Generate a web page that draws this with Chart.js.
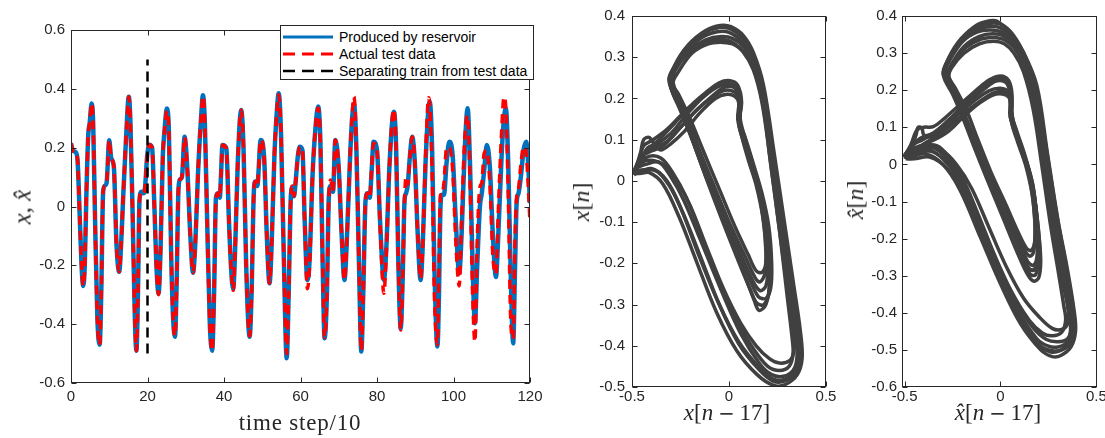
<!DOCTYPE html>
<html>
<head>
<meta charset="utf-8">
<script src="https://cdn.jsdelivr.net/npm/chart.js@4/dist/chart.umd.min.js"></script>
<style>
  body { margin: 0; background: #fff; }
  #page { position: relative; width: 1105px; height: 438px; overflow: hidden; background: #fff; }
  canvas { position: absolute; top: 0; }
  .lbl { position: absolute; font-family: "Liberation Serif", "Times New Roman", serif; color: #262626;
         white-space: nowrap; line-height: 1; transform: translate(-50%, -50%); }
  .rot { transform: translate(-50%, -50%) rotate(-90deg); }
  .mi { font-family: "DejaVu Sans", sans-serif; font-size: 0.85em; padding: 0 5px; }
  #legend { position: absolute; left: 280px; top: 25px; width: 254px; height: 55px; box-sizing: border-box;
            border: 1px solid #262626; background: #fff; font: 14px "Liberation Sans", Arial, sans-serif; color: #000; }
  #legend .row { position: absolute; left: 2px; height: 16px; line-height: 16px; white-space: nowrap; }
  #legend svg { position: absolute; left: 0; top: 5px; }
  #legend span { position: absolute; left: 56px; top: 0; }
</style>
</head>
<body>
<div id="page">
  <canvas id="tsChart" width="545" height="438" style="left:0"></canvas>
  <canvas id="midChart" width="290" height="438" style="left:550px"></canvas>
  <canvas id="hatChart" width="265" height="438" style="left:840px"></canvas>

  <div id="legend">
    <div class="row" style="top:3px">
      <svg width="52" height="6"><line x1="0" y1="3" x2="50" y2="3" stroke="#0072bd" stroke-width="3"/></svg>
      <span>Produced by reservoir</span>
    </div>
    <div class="row" style="top:20px">
      <svg width="52" height="6"><line x1="0" y1="3" x2="50" y2="3" stroke="#ff0000" stroke-width="3" stroke-dasharray="12 7"/></svg>
      <span>Actual test data</span>
    </div>
    <div class="row" style="top:37px">
      <svg width="52" height="6"><line x1="0" y1="3" x2="50" y2="3" stroke="#000" stroke-width="2.5" stroke-dasharray="12 7"/></svg>
      <span>Separating train from test data</span>
    </div>
  </div>

  <div class="lbl rot" style="left:22px;top:207px;font-size:25px"><i>x</i>, <i>x&#770;</i></div>
  <div class="lbl" style="left:300px;top:422px;font-size:23px;letter-spacing:0.8px">time step/10</div>
  <div class="lbl rot" style="left:581px;top:202px;font-size:24px"><i>x</i>[<i>n</i>]</div>
  <div class="lbl" style="left:727px;top:412px;font-size:23px"><i>x</i>[<i>n</i><span class="mi">&minus;</span>17]</div>
  <div class="lbl rot" style="left:855px;top:200px;font-size:24px"><i>x&#770;</i>[<i>n</i>]</div>
  <div class="lbl" style="left:998px;top:412px;font-size:23px"><i>x&#770;</i>[<i>n</i><span class="mi">&minus;</span>17]</div>
</div>

<script>
// time axis (time step / 10) shared by both series
const timeSteps = [
    0.0, 0.5, 1.2, 1.7, 2.3, 2.8, 3.2, 3.6, 4.0, 4.5, 4.9, 5.4, 5.8, 6.3, 6.9, 7.5, 7.9, 8.4, 8.8, 9.3,
    10.0, 10.5, 11.2, 11.9, 12.6, 13.1, 13.7, 14.5, 15.1, 15.5, 16.1, 16.7, 17.1, 17.5, 17.9, 18.4, 19.0, 19.4, 19.9,
    20.5, 21.2, 21.8, 22.4, 22.9, 23.4, 24.0, 24.4, 25.1, 25.6, 26.2, 26.7, 27.2, 27.6, 28.1, 28.5, 29.0, 29.7,
    30.4, 31.2, 31.9, 32.4, 33.3, 34.0, 34.5, 35.0, 35.6, 36.3, 36.9, 37.4, 37.9, 38.4, 38.9, 39.2, 39.6,
    40.6, 41.3, 41.9, 42.4, 42.9, 43.6, 44.5, 45.1, 45.8, 46.7, 47.2, 47.8, 48.2, 48.7, 49.6,
    50.5, 51.2, 51.9, 52.4, 53.2, 53.7, 54.3, 54.9, 55.6, 56.4, 56.9, 57.5, 57.9, 58.3, 58.7, 59.3, 59.8,
    60.5, 61.1, 61.8, 62.3, 63.2, 64.0, 64.6, 65.2, 65.8, 66.3, 66.9, 67.4, 67.9, 68.5, 69.1,
    70.0, 70.7, 71.5, 72.0, 73.0, 73.5, 74.0, 74.6, 75.3, 75.9, 76.4, 77.0, 77.5, 78.1, 78.6, 79.1,
    80.0, 80.8, 81.8, 82.4, 83.3, 84.4, 85.0, 85.6, 86.2, 86.7, 87.2, 87.6, 88.0, 88.6, 89.2, 89.9,
    90.6, 91.4, 91.9, 92.7, 93.5, 93.8, 94.4, 95.0, 95.8, 96.2, 96.6, 97.0, 97.5, 98.2, 98.9, 99.8,
    100.6, 101.5, 102.1, 102.9, 103.7, 104.3, 105.0, 105.6, 106.2, 106.9, 107.4, 108.0, 108.7, 109.5,
    110.3, 111.1, 111.7, 112.6, 113.2, 113.7, 114.3, 115.0, 115.6, 116.1, 116.5, 117.0, 117.6, 118.3, 119.0, 119.5, 120.0
];

// blue: produced by reservoir
const reservoirOut = [
    0.215, 0.19, 0.185, 0.16, -0.04, -0.21, -0.27, -0.2, 0.03, 0.24, 0.285, 0.35, 0.28, -0.05, -0.38, -0.47, -0.3, 0.05, 0.07, 0.08,
    0.225, 0.165, 0.135, -0.13, -0.222, -0.13, 0.05, 0.26, 0.373, 0.3, -0.02, -0.38, -0.49, -0.3, 0.02, 0.05, 0.045, 0.07, 0.17,
    0.21, 0.2, 0.0, -0.22, -0.296, -0.15, 0.17, 0.25, 0.333, 0.25, -0.17, -0.38, -0.443, -0.27, 0.06, 0.092, 0.1, 0.237,
    0.13, -0.1, -0.225, -0.15, 0.14, 0.3, 0.378, 0.28, -0.05, -0.4, -0.49, -0.3, 0.03, 0.045, 0.03, 0.1, 0.209,
    0.198, -0.05, -0.22, -0.28, -0.15, 0.15, 0.328, 0.2, -0.2, -0.443, -0.3, 0.05, 0.085, 0.07, 0.226,
    0.164, -0.1, -0.261, -0.15, 0.18, 0.3, 0.385, 0.25, -0.15, -0.516, -0.3, 0.04, 0.065, 0.035, 0.08, 0.17, 0.203,
    0.192, -0.05, -0.25, -0.2, 0.12, 0.28, 0.34, 0.22, -0.2, -0.448, -0.3, 0.03, 0.07, 0.05, 0.226,
    0.13, -0.08, -0.25, -0.15, 0.18, 0.3, 0.35, 0.2, -0.2, -0.493, -0.3, 0.02, 0.045, 0.03, 0.12, 0.22,
    0.192, -0.05, -0.25, -0.15, 0.15, 0.322, 0.2, -0.2, -0.414, -0.25, 0.02, 0.045, 0.07, 0.17, 0.237, 0.147,
    -0.08, -0.25, -0.15, 0.15, 0.34, 0.356, 0.2, -0.2, -0.476, -0.3, 0.0, 0.04, 0.04, 0.15, 0.22, 0.17,
    -0.05, -0.227, -0.1, 0.18, 0.334, 0.15, -0.2, -0.397, -0.2, 0.0, 0.045, 0.12, 0.209, 0.135,
    -0.1, -0.24, -0.1, 0.18, 0.3, 0.334, 0.15, -0.25, -0.465, -0.2, 0.011, 0.045, 0.1, 0.19, 0.22, 0.15, 0.011
];

// red: actual test data
const actualData = [
    0.215, 0.19, 0.185, 0.16, -0.04, -0.21, -0.27, -0.2, 0.03, 0.24, 0.285, 0.35, 0.28, -0.05, -0.38, -0.47, -0.3, 0.05, 0.07, 0.08,
    0.225, 0.165, 0.135, -0.13, -0.222, -0.13, 0.05, 0.26, 0.373, 0.3, -0.02, -0.38, -0.49, -0.3, 0.02, 0.05, 0.045, 0.07, 0.17,
    0.21, 0.2, 0.0, -0.22, -0.3, -0.15, 0.17, 0.25, 0.325, 0.25, -0.17, -0.38, -0.44, -0.27, 0.06, 0.092, 0.1, 0.235,
    0.13, -0.1, -0.225, -0.15, 0.14, 0.3, 0.375, 0.28, -0.05, -0.4, -0.49, -0.3, 0.03, 0.045, 0.03, 0.1, 0.209,
    0.198, -0.05, -0.22, -0.285, -0.15, 0.15, 0.328, 0.2, -0.2, -0.44, -0.3, 0.05, 0.085, 0.07, 0.226,
    0.164, -0.1, -0.261, -0.15, 0.18, 0.3, 0.38, 0.25, -0.15, -0.5, -0.3, 0.04, 0.07, 0.035, 0.08, 0.17, 0.203,
    0.192, -0.05, -0.28, -0.22, 0.12, 0.28, 0.335, 0.22, -0.2, -0.445, -0.3, 0.03, 0.09, 0.05, 0.226,
    0.13, -0.08, -0.25, -0.15, 0.18, 0.31, 0.373, 0.2, -0.2, -0.49, -0.3, 0.02, 0.045, 0.03, 0.13, 0.215,
    0.19, -0.06, -0.295, -0.17, 0.15, 0.33, 0.2, -0.2, -0.42, -0.25, 0.02, 0.1, 0.075, 0.17, 0.237, 0.147,
    -0.08, -0.245, -0.15, 0.17, 0.37, 0.34, 0.12, -0.3, -0.47, -0.2, 0.04, 0.04, 0.08, 0.2, 0.2, 0.12,
    -0.12, -0.27, -0.05, 0.22, 0.31, 0.1, -0.3, -0.46, -0.12, 0.065, 0.08, 0.18, 0.19, 0.08,
    -0.17, -0.23, -0.02, 0.26, 0.373, 0.33, 0.05, -0.4, -0.45, -0.1, 0.03, 0.06, 0.14, 0.203, 0.18, 0.08, -0.057
];

// black dashed: train / test split
const separatorT = [20, 20];
const separatorX = [-0.5, 0.5];

const tsXTicks = [0, 20, 40, 60, 80, 100, 120];
const tsXLabels = ['0', '20', '40', '60', '80', '100', '120'];
const tsYTicks = [-0.6, -0.4, -0.2, 0, 0.2, 0.4, 0.6];
const tsYLabels = ['-0.6', '-0.4', '-0.2', '0', '0.2', '0.4', '0.6'];

const phaseXTicks = [-0.5, 0, 0.5];
const phaseXLabels = ['-0.5', '0', '0.5'];
const midYTicks = [-0.5, -0.4, -0.3, -0.2, -0.1, 0, 0.1, 0.2, 0.3, 0.4];
const midYLabels = ['-0.5', '-0.4', '-0.3', '-0.2', '-0.1', '0', '0.1', '0.2', '0.3', '0.4'];
const hatYTicks = [-0.6, -0.5, -0.4, -0.3, -0.2, -0.1, 0, 0.1, 0.2, 0.3, 0.4];
const hatYLabels = ['-0.6', '-0.5', '-0.4', '-0.3', '-0.2', '-0.1', '0', '0.1', '0.2', '0.3', '0.4'];

// x[n] against x[n-17], traced loops [x[n-17], x[n]]
const midLoop1 = [[-0.495,0.02],[-0.47,0.04],[-0.44,0.085],[-0.39,0.1],[-0.32,0.125],[-0.25,0.158],[-0.18,0.19],[-0.12,0.214],
    [-0.05,0.238],[0.005,0.243],[0.045,0.232],[0.065,0.19],[0.05,0.14],[0.075,0.1],[0.11,0.04],[0.165,-0.04],[0.196,-0.1],
    [0.207,-0.18],[0.212,-0.245],[0.19,-0.3],[0.155,-0.314],[0.13,-0.29],[0.06,-0.2],[-0.03,-0.09],[-0.11,0.0],[-0.18,0.09],
    [-0.25,0.175],[-0.305,0.236],[-0.28,0.28],[-0.21,0.33],[-0.12,0.365],[-0.045,0.377],[0.01,0.374],[0.075,0.352],[0.125,0.312],
    [0.178,0.232],[0.232,0.07],[0.284,-0.095],[0.336,-0.26],[0.368,-0.365],[0.377,-0.43],[0.352,-0.47],[0.29,-0.494],[0.23,-0.496],
    [0.145,-0.47],[0.04,-0.412],[-0.065,-0.318],[-0.168,-0.195],[-0.255,-0.09],[-0.34,-0.008],[-0.41,0.02],[-0.46,0.018],[-0.495,0.02]];
const midLoop2 = [[-0.485,0.03],[-0.45,0.06],[-0.41,0.07],[-0.34,0.085],[-0.25,0.13],[-0.17,0.17],[-0.1,0.2],[-0.03,0.226],
    [0.02,0.228],[0.05,0.21],[0.06,0.18],[0.055,0.13],[0.085,0.09],[0.125,0.03],[0.165,-0.05],[0.19,-0.13],[0.2,-0.21],
    [0.19,-0.255],[0.16,-0.266],[0.12,-0.24],[0.05,-0.165],[-0.03,-0.07],[-0.12,0.03],[-0.19,0.115],[-0.25,0.185],[-0.29,0.245],
    [-0.27,0.28],[-0.2,0.318],[-0.12,0.342],[-0.04,0.35],[0.02,0.345],[0.08,0.323],[0.13,0.28],[0.175,0.2],[0.22,0.06],
    [0.27,-0.1],[0.315,-0.27],[0.345,-0.38],[0.35,-0.43],[0.33,-0.46],[0.28,-0.474],[0.22,-0.47],[0.16,-0.445],[0.06,-0.37],
    [-0.045,-0.26],[-0.15,-0.14],[-0.235,-0.045],[-0.3,0.01],[-0.36,0.045],[-0.43,0.04],[-0.485,0.03]];
const midLoop3 = [[-0.475,0.04],[-0.455,0.07],[-0.44,0.1],[-0.41,0.105],[-0.38,0.085],[-0.35,0.075],[-0.3,0.09],[-0.23,0.12],
    [-0.15,0.165],[-0.07,0.2],[-0.01,0.21],[0.03,0.205],[0.05,0.19],[0.045,0.15],[0.07,0.1],[0.1,0.05],[0.14,-0.01],
    [0.175,-0.09],[0.19,-0.17],[0.185,-0.225],[0.16,-0.245],[0.135,-0.235],[0.08,-0.18],[0.01,-0.11],[-0.07,-0.02],[-0.14,0.06],
    [-0.2,0.135],[-0.255,0.2],[-0.29,0.235],[-0.26,0.265],[-0.19,0.31],[-0.11,0.332],[-0.03,0.336],[0.03,0.33],[0.09,0.305],
    [0.14,0.255],[0.18,0.17],[0.215,0.04],[0.26,-0.12],[0.3,-0.28],[0.325,-0.38],[0.33,-0.42],[0.31,-0.45],[0.26,-0.46],
    [0.2,-0.45],[0.13,-0.41],[0.04,-0.34],[-0.05,-0.245],[-0.14,-0.135],[-0.22,-0.04],[-0.29,0.02],[-0.35,0.055],[-0.41,0.06],[-0.475,0.04]];
const midLoop4 = [[-0.49,0.015],[-0.46,0.045],[-0.42,0.075],[-0.36,0.1],[-0.28,0.14],[-0.2,0.18],[-0.12,0.21],[-0.05,0.232],
    [0.0,0.236],[0.04,0.225],[0.058,0.195],[0.05,0.145],[0.08,0.11],[0.12,0.05],[0.17,-0.03],[0.205,-0.11],[0.22,-0.2],
    [0.215,-0.26],[0.19,-0.285],[0.15,-0.28],[0.1,-0.23],[0.02,-0.14],[-0.07,-0.04],[-0.15,0.05],[-0.22,0.14],[-0.275,0.2],
    [-0.31,0.245],[-0.285,0.275],[-0.22,0.322],[-0.13,0.358],[-0.05,0.372],[0.01,0.368],[0.07,0.346],[0.12,0.305],[0.17,0.225],
    [0.225,0.07],[0.275,-0.1],[0.325,-0.26],[0.36,-0.37],[0.365,-0.43],[0.34,-0.465],[0.28,-0.482],[0.225,-0.48],[0.16,-0.455],
    [0.05,-0.39],[-0.055,-0.295],[-0.16,-0.175],[-0.245,-0.07],[-0.32,0.0],[-0.4,0.03],[-0.49,0.015]];
const midLoop5 = [[-0.49,0.025],[-0.455,0.05],[-0.42,0.08],[-0.37,0.09],[-0.3,0.115],[-0.22,0.16],[-0.14,0.2],[-0.06,0.228],
    [0.0,0.235],[0.04,0.222],[0.06,0.19],[0.058,0.15],[0.082,0.105],[0.12,0.045],[0.16,-0.035],[0.19,-0.12],[0.205,-0.2],
    [0.205,-0.27],[0.18,-0.3],[0.145,-0.297],[0.115,-0.27],[0.04,-0.185],[-0.04,-0.09],[-0.12,0.01],[-0.19,0.1],[-0.25,0.17],
    [-0.3,0.228],[-0.29,0.26],[-0.23,0.31],[-0.14,0.348],[-0.06,0.362],[0.0,0.36],[0.065,0.338],[0.115,0.3],[0.165,0.22],
    [0.22,0.07],[0.27,-0.09],[0.32,-0.25],[0.352,-0.36],[0.36,-0.425],[0.34,-0.465],[0.285,-0.486],[0.225,-0.485],[0.155,-0.458],
    [0.05,-0.395],[-0.05,-0.3],[-0.15,-0.18],[-0.24,-0.075],[-0.31,-0.01],[-0.38,0.025],[-0.49,0.025]];
const midLoop6 = [[-0.48,0.035],[-0.44,0.065],[-0.39,0.08],[-0.32,0.095],[-0.24,0.135],[-0.16,0.175],[-0.08,0.205],[-0.02,0.22],
    [0.03,0.215],[0.052,0.195],[0.055,0.155],[0.06,0.12],[0.09,0.075],[0.135,0.01],[0.17,-0.07],[0.19,-0.15],[0.19,-0.2],
    [0.17,-0.222],[0.14,-0.218],[0.1,-0.18],[0.03,-0.11],[-0.05,-0.02],[-0.13,0.07],[-0.2,0.15],[-0.26,0.21],[-0.295,0.24],
    [-0.275,0.27],[-0.21,0.31],[-0.13,0.336],[-0.05,0.343],[0.01,0.338],[0.07,0.315],[0.125,0.27],[0.17,0.19],[0.21,0.06],
    [0.255,-0.1],[0.3,-0.26],[0.33,-0.36],[0.335,-0.41],[0.315,-0.435],[0.26,-0.442],[0.21,-0.432],[0.14,-0.4],[0.06,-0.345],
    [-0.03,-0.26],[-0.12,-0.155],[-0.2,-0.06],[-0.27,0.0],[-0.34,0.04],[-0.42,0.05],[-0.48,0.035]];

// x^[n] against x^[n-17]
const hatLoop1 = [[-0.505,0.02],[-0.47,0.05],[-0.435,0.093],[-0.4,0.1],[-0.35,0.102],[-0.29,0.125],[-0.24,0.148],[-0.17,0.18],
    [-0.1,0.212],[-0.05,0.23],[0.0,0.238],[0.04,0.228],[0.058,0.2],[0.06,0.155],[0.052,0.128],[0.08,0.08],[0.12,0.03],
    [0.165,-0.045],[0.185,-0.12],[0.195,-0.2],[0.2,-0.26],[0.182,-0.298],[0.155,-0.296],[0.13,-0.27],[0.06,-0.18],[-0.02,-0.08],
    [-0.1,0.02],[-0.17,0.11],[-0.23,0.19],[-0.29,0.24],[-0.27,0.285],[-0.2,0.34],[-0.125,0.375],[-0.055,0.387],[-0.015,0.385],
    [0.05,0.356],[0.12,0.302],[0.19,0.212],[0.245,0.03],[0.3,-0.15],[0.35,-0.285],[0.383,-0.39],[0.392,-0.448],[0.368,-0.492],
    [0.315,-0.515],[0.27,-0.518],[0.21,-0.5],[0.105,-0.43],[0.0,-0.322],[-0.105,-0.196],[-0.21,-0.07],[-0.3,0.0],[-0.39,0.028],
    [-0.47,0.02],[-0.505,0.02]];
const hatLoop2 = [[-0.49,0.03],[-0.45,0.055],[-0.41,0.065],[-0.33,0.09],[-0.24,0.13],[-0.16,0.17],[-0.08,0.205],[-0.02,0.225],
    [0.03,0.22],[0.05,0.19],[0.055,0.15],[0.075,0.1],[0.115,0.04],[0.155,-0.03],[0.18,-0.11],[0.19,-0.19],[0.19,-0.25],
    [0.17,-0.272],[0.14,-0.26],[0.09,-0.2],[0.02,-0.12],[-0.06,-0.03],[-0.14,0.065],[-0.2,0.145],[-0.255,0.205],[-0.28,0.235],
    [-0.255,0.27],[-0.19,0.318],[-0.11,0.345],[-0.04,0.352],[0.02,0.345],[0.08,0.315],[0.14,0.26],[0.19,0.17],[0.23,0.02],
    [0.28,-0.15],[0.33,-0.3],[0.36,-0.41],[0.365,-0.45],[0.345,-0.48],[0.3,-0.492],[0.25,-0.49],[0.19,-0.47],[0.1,-0.4],
    [0.01,-0.3],[-0.09,-0.18],[-0.19,-0.06],[-0.27,0.01],[-0.35,0.045],[-0.43,0.04],[-0.49,0.03]];
const hatLoop3 = [[-0.48,0.035],[-0.44,0.06],[-0.38,0.075],[-0.3,0.095],[-0.22,0.135],[-0.14,0.17],[-0.06,0.198],[0.0,0.205],
    [0.04,0.195],[0.05,0.17],[0.05,0.13],[0.08,0.085],[0.125,0.02],[0.16,-0.06],[0.178,-0.14],[0.18,-0.2],[0.17,-0.24],
    [0.15,-0.247],[0.12,-0.225],[0.06,-0.16],[-0.01,-0.08],[-0.09,0.01],[-0.16,0.1],[-0.22,0.175],[-0.27,0.23],[-0.255,0.26],
    [-0.19,0.3],[-0.11,0.325],[-0.035,0.332],[0.02,0.325],[0.07,0.3],[0.12,0.25],[0.17,0.15],[0.215,0.0],[0.26,-0.16],
    [0.305,-0.3],[0.33,-0.38],[0.34,-0.42],[0.32,-0.452],[0.27,-0.462],[0.22,-0.455],[0.15,-0.42],[0.06,-0.345],[-0.03,-0.245],
    [-0.12,-0.13],[-0.2,-0.035],[-0.27,0.02],[-0.33,0.05],[-0.41,0.05],[-0.48,0.035]];
const hatLoop4 = [[-0.5,0.018],[-0.465,0.045],[-0.44,0.08],[-0.43,0.1],[-0.41,0.098],[-0.4,0.08],[-0.36,0.075],[-0.3,0.1],
    [-0.22,0.145],[-0.14,0.185],[-0.06,0.222],[0.0,0.232],[0.035,0.225],[0.055,0.2],[0.058,0.16],[0.06,0.12],[0.09,0.075],
    [0.14,0.0],[0.175,-0.08],[0.195,-0.16],[0.205,-0.23],[0.195,-0.275],[0.17,-0.286],[0.14,-0.275],[0.08,-0.205],[0.0,-0.11],
    [-0.08,-0.01],[-0.15,0.08],[-0.21,0.16],[-0.265,0.215],[-0.3,0.245],[-0.275,0.28],[-0.21,0.33],[-0.13,0.362],[-0.06,0.372],
    [0.0,0.368],[0.06,0.34],[0.125,0.285],[0.18,0.2],[0.235,0.03],[0.29,-0.15],[0.34,-0.29],[0.37,-0.39],[0.378,-0.44],
    [0.36,-0.48],[0.31,-0.502],[0.26,-0.505],[0.2,-0.485],[0.11,-0.415],[0.01,-0.31],[-0.095,-0.185],[-0.2,-0.06],[-0.28,0.005],
    [-0.36,0.035],[-0.44,0.03],[-0.5,0.018]];
const hatLoop5 = [[-0.47,0.04],[-0.42,0.05],[-0.35,0.065],[-0.27,0.09],[-0.19,0.13],[-0.11,0.165],[-0.04,0.187],[0.01,0.19],
    [0.045,0.18],[0.055,0.15],[0.06,0.11],[0.09,0.06],[0.13,0.0],[0.165,-0.08],[0.18,-0.16],[0.178,-0.21],[0.16,-0.232],
    [0.135,-0.225],[0.09,-0.18],[0.03,-0.11],[-0.05,-0.02],[-0.12,0.07],[-0.18,0.15],[-0.235,0.205],[-0.27,0.24],[-0.245,0.275],
    [-0.18,0.315],[-0.1,0.338],[-0.03,0.342],[0.03,0.333],[0.09,0.3],[0.145,0.235],[0.2,0.1],[0.245,-0.07],[0.29,-0.22],
    [0.33,-0.33],[0.355,-0.4],[0.35,-0.43],[0.32,-0.445],[0.27,-0.442],[0.2,-0.41],[0.12,-0.36],[0.03,-0.275],[-0.06,-0.17],
    [-0.15,-0.065],[-0.23,0.0],[-0.31,0.04],[-0.4,0.05],[-0.47,0.04]];
const hatLoop6 = [[-0.5,0.025],[-0.46,0.05],[-0.42,0.07],[-0.35,0.085],[-0.27,0.12],[-0.19,0.16],[-0.11,0.198],[-0.04,0.222],
    [0.01,0.228],[0.045,0.215],[0.058,0.18],[0.055,0.14],[0.085,0.09],[0.13,0.02],[0.17,-0.06],[0.19,-0.15],[0.198,-0.22],
    [0.19,-0.27],[0.165,-0.285],[0.135,-0.27],[0.07,-0.19],[-0.01,-0.095],[-0.09,0.0],[-0.16,0.09],[-0.22,0.17],[-0.27,0.22],
    [-0.29,0.245],[-0.265,0.28],[-0.2,0.33],[-0.12,0.357],[-0.05,0.362],[0.01,0.355],[0.07,0.325],[0.13,0.27],[0.185,0.18],
    [0.235,0.02],[0.285,-0.15],[0.335,-0.29],[0.36,-0.39],[0.37,-0.44],[0.35,-0.47],[0.3,-0.478],[0.24,-0.472],[0.17,-0.44],
    [0.08,-0.37],[-0.02,-0.27],[-0.12,-0.15],[-0.21,-0.045],[-0.29,0.01],[-0.37,0.04],[-0.45,0.035],[-0.5,0.025]];
const hatLoop7 = [[-0.495,0.015],[-0.45,0.035],[-0.4,0.055],[-0.32,0.08],[-0.24,0.115],[-0.16,0.15],[-0.08,0.18],[-0.02,0.195],
    [0.03,0.195],[0.055,0.175],[0.06,0.14],[0.07,0.1],[0.1,0.05],[0.145,-0.02],[0.18,-0.1],[0.2,-0.19],[0.21,-0.26],
    [0.2,-0.305],[0.175,-0.315],[0.145,-0.3],[0.09,-0.24],[0.01,-0.14],[-0.07,-0.04],[-0.14,0.05],[-0.2,0.13],[-0.25,0.19],
    [-0.295,0.235],[-0.285,0.27],[-0.22,0.33],[-0.14,0.367],[-0.065,0.38],[0.0,0.378],[0.065,0.35],[0.13,0.29],[0.19,0.2],
    [0.24,0.04],[0.295,-0.14],[0.345,-0.28],[0.378,-0.385],[0.385,-0.44],[0.365,-0.482],[0.32,-0.5],[0.27,-0.502],[0.21,-0.49],
    [0.12,-0.43],[0.02,-0.33],[-0.085,-0.205],[-0.19,-0.08],[-0.28,-0.01],[-0.37,0.02],[-0.45,0.015],[-0.495,0.015]];

const AXIS_COLOR = '#262626';
const TICK_FONT = {family: '"Liberation Sans", Arial, sans-serif', size: 15};

function toPoints(xs, ys) {
    return xs.map((x, i) => ({x: x, y: ys[i]}));
}

function pairsToPoints(pairs) {
    return pairs.map(p => ({x: p[0], y: p[1]}));
}

function makeAxis(min, max, ticks, labels, isX, size, pad) {
    return {
        type: 'linear',
        min: min,
        max: max,
        grid: {display: false, drawTicks: false},
        border: {display: false},
        afterBuildTicks: scale => {
            scale.ticks = ticks.map(v => ({value: v}));
        },
        afterFit: scale => {
            if (isX) {
                scale.height = size;
                scale.paddingLeft = 0;
                scale.paddingRight = 0;
            } else {
                scale.width = size;
                scale.paddingTop = 0;
                scale.paddingBottom = 0;
            }
        },
        ticks: {
            color: AXIS_COLOR,
            font: TICK_FONT,
            padding: pad,
            autoSkip: false,
            maxRotation: 0,
            callback: (value, i) => labels[i]
        }
    };
}

// matlab style box with inward ticks on all four sides
const matlabBox = {
    id: 'matlabBox',
    afterDatasetsDraw(chart) {
        const {ctx, chartArea: a, scales} = chart;
        const len = 5;
        const left = Math.round(a.left) + 0.5;
        const right = Math.round(a.right) - 0.5;
        const top = Math.round(a.top) + 0.5;
        const bottom = Math.round(a.bottom) - 0.5;
        ctx.save();
        ctx.strokeStyle = AXIS_COLOR;
        ctx.lineWidth = 1;
        ctx.beginPath();
        scales.x.ticks.forEach(t => {
            const px = Math.round(scales.x.getPixelForValue(t.value)) + 0.5;
            ctx.moveTo(px, bottom);
            ctx.lineTo(px, bottom - len);
            ctx.moveTo(px, top);
            ctx.lineTo(px, top + len);
        });
        scales.y.ticks.forEach(t => {
            const py = Math.round(scales.y.getPixelForValue(t.value)) + 0.5;
            ctx.moveTo(left, py);
            ctx.lineTo(left + len, py);
            ctx.moveTo(right, py);
            ctx.lineTo(right - len, py);
        });
        ctx.stroke();
        ctx.strokeRect(left, top, right - left, bottom - top);
        ctx.restore();
    }
};

const commonOptions = {
    responsive: false,
    animation: false,
    events: [],
    plugins: {legend: {display: false}, tooltip: {enabled: false}}
};

new Chart(document.getElementById('tsChart'), {
    type: 'line',
    data: {
        datasets: [
            {
                label: 'Separating train from test data',
                data: toPoints(separatorT, separatorX),
                borderColor: '#000000',
                borderWidth: 2.5,
                borderDash: [10, 6],
                pointRadius: 0
            },
            {
                label: 'Actual test data',
                data: toPoints(timeSteps, actualData),
                borderColor: '#ff0000',
                borderWidth: 3.5,
                borderDash: [9, 6],
                pointRadius: 0,
                cubicInterpolationMode: 'monotone'
            },
            {
                label: 'Produced by reservoir',
                data: toPoints(timeSteps, reservoirOut),
                borderColor: '#0072bd',
                borderWidth: 4.5,
                pointRadius: 0,
                cubicInterpolationMode: 'monotone'
            }
        ]
    },
    options: {
        ...commonOptions,
        layout: {padding: {top: 30, right: 15, left: 0, bottom: 0}},
        scales: {
            x: makeAxis(0, 120, tsXTicks, tsXLabels, true, 55, 5),
            y: makeAxis(-0.6, 0.6, tsYTicks, tsYLabels, false, 71, 6)
        }
    },
    plugins: [matlabBox]
});

function phaseDataset(loop) {
    return {
        data: pairsToPoints(loop),
        showLine: true,
        borderColor: '#404040',
        borderWidth: 3.5,
        pointRadius: 0,
        tension: 0.35
    };
}

new Chart(document.getElementById('midChart'), {
    type: 'scatter',
    data: {datasets: [midLoop1, midLoop2, midLoop3, midLoop4, midLoop5, midLoop6].map(phaseDataset)},
    options: {
        ...commonOptions,
        layout: {padding: {top: 16, right: 14, left: 0, bottom: 0}},
        scales: {
            x: makeAxis(-0.5, 0.5, phaseXTicks, phaseXLabels, true, 51, 1),
            y: makeAxis(-0.5, 0.4, midYTicks, midYLabels, false, 82, 7)
        }
    },
    plugins: [matlabBox]
});

new Chart(document.getElementById('hatChart'), {
    type: 'scatter',
    data: {datasets: [hatLoop1, hatLoop2, hatLoop3, hatLoop4, hatLoop5, hatLoop6, hatLoop7].map(phaseDataset)},
    options: {
        ...commonOptions,
        layout: {padding: {top: 16, right: 8, left: 0, bottom: 0}},
        scales: {
            x: makeAxis(-0.5136, 0.5036, phaseXTicks, phaseXLabels, true, 51, 1),
            y: makeAxis(-0.6, 0.4, hatYTicks, hatYLabels, false, 62, 5)
        }
    },
    plugins: [matlabBox]
});
</script>
</body>
</html>
